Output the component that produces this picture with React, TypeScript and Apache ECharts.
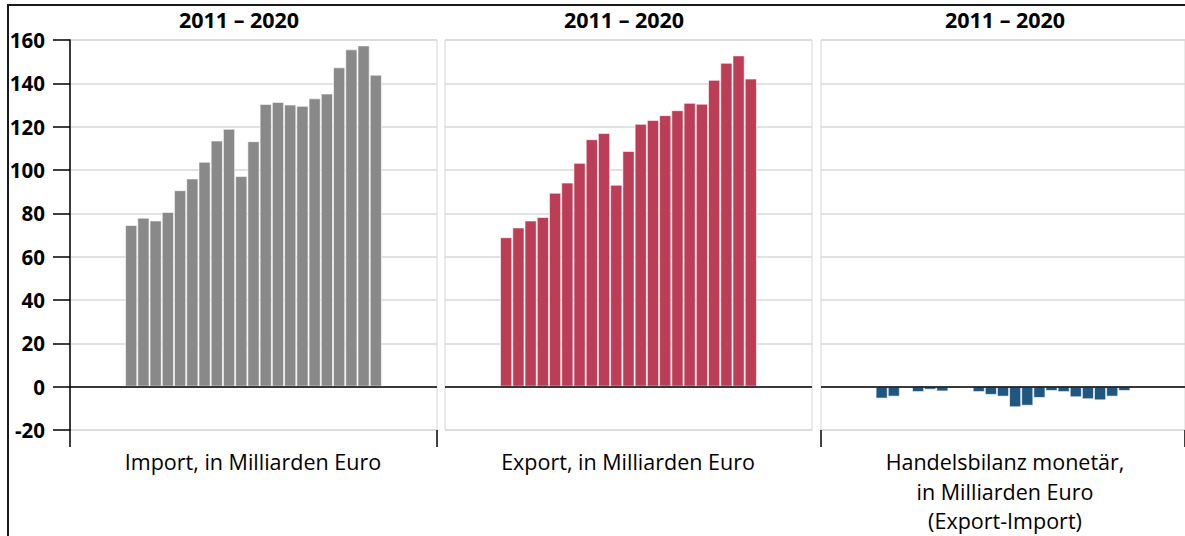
import React, { useEffect, useRef } from "react";
import * as echarts from "echarts";

// positions of the 21 bars (period index within each panel)
const periods = [0, 1, 2, 3, 4, 5, 6, 7, 8, 9, 10, 11, 12, 13, 14, 15, 16, 17, 18, 19, 20];

const importValues = [74.6, 78.0, 76.7, 80.6, 90.7, 96.1, 103.8, 113.6, 119.0, 97.2, 113.3, 130.5, 131.4, 130.2, 129.6, 133.1, 135.3, 147.4, 155.7, 157.5, 144.0];
const exportValues = [69.0, 73.5, 76.7, 78.3, 89.5, 94.2, 103.3, 114.2, 117.1, 93.2, 108.8, 121.3, 123.1, 125.3, 127.6, 131.0, 130.6, 141.6, 149.5, 152.9, 142.2];
const balanceValues = [-5.5, -4.6, 0, -2.5, -1.4, -2.2, -0.8, 0, -2.5, -3.8, -4.6, -9.5, -8.8, -5.2, -2.0, -2.5, -4.9, -5.8, -6.3, -4.6, -2.0];

const periodTitle = "2011 – 2020";
const panelLabels = [
  "Import, in Milliarden Euro",
  "Export, in Milliarden Euro",
  "Handelsbilanz monetär,\nin Milliarden Euro\n(Export-Import)",
];
const yMin = -20;
const yMax = 160;
const yStep = 20;

const colors = ["#898989", "#bb3d56", "#1f5780"];
const gridLefts = [70, 445, 821];
const titleCenters = [239, 624, 1005];
const labelCenters = [253, 628, 1005];
const panelWidth = 367;
const FONT = "'Open Sans'";

export default function App() {
  const ref = useRef<HTMLDivElement>(null);

  useEffect(() => {
    document.body.style.margin = "0";
    if (!ref.current) return;
    const chart = echarts.init(ref.current, null, { renderer: "svg" });
    const seriesValues = [importValues, exportValues, balanceValues];

    const grids = gridLefts.map((left) => ({
      left,
      top: 40,
      width: panelWidth,
      height: 390,
      show: true,
      borderColor: "#d6d6d6",
      borderWidth: 1,
      backgroundColor: "transparent",
    }));

    const xAxes = gridLefts.map((_, i) => ({
      gridIndex: i,
      type: "value",
      min: -5,
      max: 25,
      interval: 30,
      axisLine: { show: false, onZero: false },
      axisTick: { show: i !== 1, length: 17, lineStyle: { color: "#000", width: 1.5 } },
      axisLabel: { show: false },
      splitLine: { show: false },
    }));

    const yAxes = gridLefts.map((_, i) => ({
      gridIndex: i,
      type: "value",
      min: yMin,
      max: yMax,
      interval: yStep,
      axisLine: { show: i === 0, onZero: false, lineStyle: { color: "#000", width: 1.5 } },
      axisTick: { show: i === 0, length: 17, lineStyle: { color: "#000", width: 1.5 } },
      axisLabel: {
        show: i === 0,
        margin: 25,
        color: "#000",
        fontFamily: FONT,
        fontWeight: "bold",
        fontSize: 20.5,
      },
      splitLine: { show: true, lineStyle: { color: "#d9d9d9", width: 1.5 } },
    }));

    const series = seriesValues.map((vals, i) => ({
      type: "bar",
      xAxisIndex: i,
      yAxisIndex: i,
      data: periods.map((p, k) => [p, vals[k]]),
      barWidth: "100%",
      itemStyle: {
        color: colors[i],
        borderColor: "rgba(255,255,255,0.6)",
        borderWidth: 1,
      },
      markLine: {
        silent: true,
        symbol: "none",
        label: { show: false },
        lineStyle: { color: "#000", width: 1.5, type: "solid" },
        data: [{ yAxis: 0 }],
      },
    }));

    const graphics: any[] = [
      {
        type: "rect",
        shape: { x: 8, y: 5, width: 1250, height: 600 },
        style: { fill: "none", stroke: "#1a1a1a", lineWidth: 2 },
        silent: true,
      },
    ];
    titleCenters.forEach((x) => {
      graphics.push({
        type: "text",
        x,
        y: 19,
        style: {
          text: periodTitle,
          align: "center",
          verticalAlign: "middle",
          fontFamily: FONT,
          fontWeight: "bold",
          fontSize: 21.5,
          fill: "#000",
        },
      });
    });
    panelLabels.forEach((t, i) => {
      graphics.push({
        type: "text",
        x: labelCenters[i],
        y: 447,
        style: {
          text: t,
          align: "center",
          verticalAlign: "top",
          fontFamily: FONT,
          fontWeight: 500,
          fontSize: 21.5,
          lineHeight: 29.5,
          fill: "#000",
        },
      });
    });

    chart.setOption({
      animation: false,
      grid: grids,
      xAxis: xAxes,
      yAxis: yAxes,
      series,
      graphic: graphics,
    });
    return () => chart.dispose();
  }, []);

  return <div ref={ref} style={{ width: 1185, height: 536, background: "#fff" }} />;
}
